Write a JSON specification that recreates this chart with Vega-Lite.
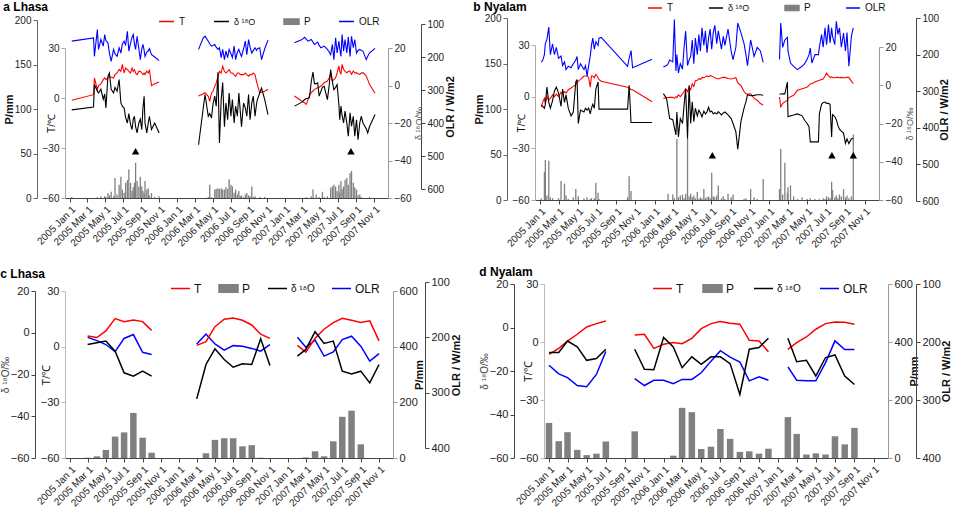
{
  "$schema": "https://vega.github.io/schema/vega-lite/v6.json",
  "padding": {"left": 0, "top": 0, "right": 0, "bottom": 0},
  "datasets": {
    "la": [
      {"t":"2005-01-07","s":1,"T":-1.4,"d":-13,"O":152,"P":1},
      {"t":"2005-03-22","s":1,"T":2,"d":-11.5,"O":142,"P":0},
      {"t":"2005-03-25","s":1,"T":12,"d":0.5,"O":198,"P":0},
      {"t":"2005-04-04","s":1,"T":5,"d":-3,"O":117,"P":1},
      {"t":"2005-04-08","s":1,"T":7.4,"d":-4,"O":177,"P":0},
      {"t":"2005-04-16","s":1,"T":8.5,"d":-2,"O":147,"P":2},
      {"t":"2005-04-24","s":1,"T":11,"d":-7.3,"O":167,"P":0},
      {"t":"2005-04-29","s":1,"T":12,"d":-4.5,"O":132,"P":2},
      {"t":"2005-05-03","s":1,"T":11,"d":-12,"O":150,"P":1},
      {"t":"2005-05-10","s":1,"T":12,"d":5,"O":157,"P":5.6},
      {"t":"2005-05-15","s":1,"T":13,"d":6.7,"O":188,"P":3},
      {"t":"2005-05-21","s":1,"T":12.5,"d":-2,"O":213,"P":7},
      {"t":"2005-05-29","s":1,"T":12,"d":-4,"O":177,"P":2},
      {"t":"2005-06-03","s":1,"T":14,"d":-1,"O":190,"P":22.5},
      {"t":"2005-06-10","s":1,"T":15,"d":-3,"O":198,"P":4},
      {"t":"2005-06-17","s":1,"T":17.2,"d":3.2,"O":172,"P":15},
      {"t":"2005-06-23","s":1,"T":16,"d":-9.3,"O":188,"P":24},
      {"t":"2005-06-28","s":1,"T":20.2,"d":-11,"O":160,"P":9.5},
      {"t":"2005-07-04","s":1,"T":15,"d":-12,"O":152,"P":6},
      {"t":"2005-07-09","s":1,"T":18,"d":-17,"O":165,"P":17},
      {"t":"2005-07-15","s":1,"T":17,"d":-20,"O":122,"P":20},
      {"t":"2005-07-20","s":1,"T":16,"d":-15,"O":182,"P":32},
      {"t":"2005-07-26","s":1,"T":15,"d":-21,"O":157,"P":17},
      {"t":"2005-07-31","s":1,"T":18,"d":-23.5,"O":140,"P":8},
      {"t":"2005-08-04","s":1,"T":16,"d":-18,"O":132,"P":12},
      {"t":"2005-08-08","s":1,"T":17,"d":-16.4,"O":160,"P":17},
      {"t":"2005-08-12","s":1,"T":15,"d":-22,"O":177,"P":39.5},
      {"t":"2005-08-17","s":1,"T":14,"d":-25.3,"O":137,"P":19},
      {"t":"2005-08-23","s":1,"T":16,"d":-20,"O":175,"P":13},
      {"t":"2005-08-28","s":1,"T":16,"d":-18,"O":208,"P":24},
      {"t":"2005-09-02","s":1,"T":15,"d":-23.5,"O":175,"P":13},
      {"t":"2005-09-06","s":1,"T":14,"d":-12,"O":162,"P":8},
      {"t":"2005-09-10","s":1,"T":15,"d":-5.7,"O":180,"P":5},
      {"t":"2005-09-13","s":1,"T":14,"d":-20,"O":198,"P":19},
      {"t":"2005-09-19","s":1,"T":16,"d":-25.3,"O":185,"P":9.5},
      {"t":"2005-09-24","s":1,"T":15,"d":-20,"O":182,"P":11},
      {"t":"2005-09-28","s":1,"T":17,"d":-16.4,"O":175,"P":3},
      {"t":"2005-10-05","s":1,"T":7.4,"d":-23.5,"O":193,"P":5.6},
      {"t":"2005-10-16","s":1,"T":8.5,"d":-20,"O":200,"P":1},
      {"t":"2005-10-31","s":1,"T":9.6,"d":-25.3,"O":211,"P":2},
      {"t":"2006-03-14","s":2,"T":1.2,"d":-31.6,"O":177,"P":0},
      {"t":"2006-03-30","s":2,"T":2.5,"d":-12,"O":142,"P":0},
      {"t":"2006-04-05","s":2,"T":3.2,"d":-4.8,"O":137,"P":0},
      {"t":"2006-04-16","s":2,"T":1,"d":-16.4,"O":152,"P":1},
      {"t":"2006-04-21","s":2,"T":-2,"d":-15,"O":160,"P":15},
      {"t":"2006-04-27","s":2,"T":3,"d":-17.3,"O":167,"P":1},
      {"t":"2006-05-02","s":2,"T":4,"d":-10,"O":165,"P":0},
      {"t":"2006-05-08","s":2,"T":7,"d":-5.7,"O":162,"P":9.5},
      {"t":"2006-05-13","s":2,"T":9,"d":-11,"O":170,"P":10},
      {"t":"2006-05-19","s":2,"T":13,"d":7,"O":177,"P":11},
      {"t":"2006-05-24","s":2,"T":16,"d":-30.6,"O":172,"P":10},
      {"t":"2006-05-30","s":2,"T":15,"d":-7.5,"O":202,"P":11},
      {"t":"2006-06-04","s":2,"T":19,"d":1.6,"O":177,"P":9.5},
      {"t":"2006-06-10","s":2,"T":16,"d":-22,"O":208,"P":9.5},
      {"t":"2006-06-15","s":2,"T":15,"d":-9.3,"O":182,"P":12},
      {"t":"2006-06-21","s":2,"T":16,"d":-18.3,"O":202,"P":10},
      {"t":"2006-06-26","s":2,"T":17,"d":-4,"O":177,"P":21},
      {"t":"2006-07-02","s":2,"T":15,"d":-16.4,"O":190,"P":15},
      {"t":"2006-07-07","s":2,"T":15,"d":-7.5,"O":202,"P":13},
      {"t":"2006-07-13","s":2,"T":14,"d":-20,"O":167,"P":6},
      {"t":"2006-07-18","s":2,"T":13,"d":-11,"O":208,"P":9.5},
      {"t":"2006-07-24","s":2,"T":15,"d":-16.4,"O":185,"P":4},
      {"t":"2006-07-29","s":2,"T":15,"d":-4,"O":177,"P":8},
      {"t":"2006-08-03","s":2,"T":14,"d":-14,"O":190,"P":2},
      {"t":"2006-08-07","s":2,"T":14,"d":-22,"O":198,"P":3},
      {"t":"2006-08-14","s":2,"T":14,"d":-9.3,"O":175,"P":1},
      {"t":"2006-08-20","s":2,"T":15,"d":-12,"O":152,"P":4},
      {"t":"2006-08-25","s":2,"T":14,"d":-16.4,"O":193,"P":5.6},
      {"t":"2006-08-31","s":2,"T":13,"d":-4.8,"O":147,"P":3},
      {"t":"2006-09-05","s":2,"T":14,"d":-18.3,"O":170,"P":2},
      {"t":"2006-09-11","s":2,"T":14,"d":-9.3,"O":188,"P":13},
      {"t":"2006-09-16","s":2,"T":15,"d":-5.7,"O":180,"P":1},
      {"t":"2006-09-22","s":2,"T":14,"d":-16.4,"O":172,"P":2},
      {"t":"2006-09-27","s":2,"T":10,"d":-10,"O":180,"P":0},
      {"t":"2006-09-30","s":2,"T":8,"d":-7.5,"O":175,"P":0},
      {"t":"2006-10-08","s":2,"T":3.2,"d":-4,"O":172,"P":1},
      {"t":"2006-10-14","s":2,"T":3.5,"d":-1.4,"O":208,"P":0},
      {"t":"2006-10-25","s":2,"T":4,"d":-7.5,"O":175,"P":1},
      {"t":"2006-11-05","s":2,"T":5.2,"d":-15.5,"O":149,"P":0},
      {"t":"2007-02-03","s":3,"T":1.2,"d":-11,"O":157,"P":0},
      {"t":"2007-02-27","s":3,"T":-1.8,"d":-9,"O":148,"P":0},
      {"t":"2007-03-10","s":3,"T":-3,"d":-7.5,"O":140,"P":0},
      {"t":"2007-03-15","s":3,"T":-3.8,"d":-7,"O":146,"P":1},
      {"t":"2007-03-21","s":3,"T":-1,"d":-6.8,"O":152,"P":0},
      {"t":"2007-03-26","s":3,"T":1.5,"d":-6.5,"O":150,"P":0},
      {"t":"2007-04-01","s":3,"T":3.2,"d":2,"O":147,"P":2},
      {"t":"2007-04-07","s":3,"T":4.2,"d":7.2,"O":155,"P":9.5},
      {"t":"2007-04-12","s":3,"T":5.2,"d":0.9,"O":162,"P":0},
      {"t":"2007-04-18","s":3,"T":5.7,"d":1,"O":158,"P":4},
      {"t":"2007-04-23","s":3,"T":6.2,"d":1.4,"O":155,"P":0},
      {"t":"2007-04-28","s":3,"T":6.5,"d":-5.7,"O":165,"P":1},
      {"t":"2007-05-04","s":3,"T":7.2,"d":-3,"O":172,"P":0},
      {"t":"2007-05-09","s":3,"T":8,"d":-1,"O":170,"P":7},
      {"t":"2007-05-15","s":3,"T":9.2,"d":-0.4,"O":167,"P":1},
      {"t":"2007-05-26","s":3,"T":10.2,"d":-7.5,"O":177,"P":2},
      {"t":"2007-06-01","s":3,"T":12,"d":0,"O":185,"P":0},
      {"t":"2007-06-06","s":3,"T":14.2,"d":8.5,"O":193,"P":11.7},
      {"t":"2007-06-12","s":3,"T":10.2,"d":2,"O":162,"P":13},
      {"t":"2007-06-17","s":3,"T":11,"d":-2.2,"O":208,"P":15},
      {"t":"2007-06-23","s":3,"T":12.2,"d":-1,"O":142,"P":13},
      {"t":"2007-06-28","s":3,"T":15,"d":0.5,"O":188,"P":8},
      {"t":"2007-07-04","s":3,"T":19.2,"d":-10,"O":152,"P":15},
      {"t":"2007-07-07","s":3,"T":16,"d":-18.3,"O":175,"P":6},
      {"t":"2007-07-11","s":3,"T":14.2,"d":-11,"O":198,"P":19},
      {"t":"2007-07-15","s":3,"T":20.2,"d":-16,"O":132,"P":10},
      {"t":"2007-07-20","s":3,"T":17.2,"d":-20,"O":182,"P":13},
      {"t":"2007-07-25","s":3,"T":16,"d":-13.7,"O":147,"P":20.5},
      {"t":"2007-07-31","s":3,"T":15.2,"d":-20,"O":188,"P":22.5},
      {"t":"2007-08-05","s":3,"T":16,"d":-27.1,"O":139,"P":15},
      {"t":"2007-08-11","s":3,"T":16.2,"d":-14.6,"O":198,"P":28},
      {"t":"2007-08-16","s":3,"T":14.2,"d":-21.7,"O":137,"P":30.4},
      {"t":"2007-08-22","s":3,"T":16.2,"d":-16.4,"O":172,"P":17},
      {"t":"2007-08-27","s":3,"T":15,"d":-27,"O":147,"P":12},
      {"t":"2007-09-02","s":3,"T":15.2,"d":-18.3,"O":188,"P":9.5},
      {"t":"2007-09-07","s":3,"T":14.5,"d":-28.9,"O":180,"P":3},
      {"t":"2007-09-13","s":3,"T":14.2,"d":-20,"O":177,"P":4},
      {"t":"2007-09-18","s":3,"T":15,"d":-16.4,"O":180,"P":1},
      {"t":"2007-09-24","s":3,"T":15.2,"d":-20,"O":182,"P":0},
      {"t":"2007-10-05","s":3,"T":13.2,"d":-23,"O":208,"P":0},
      {"t":"2007-10-10","s":3,"T":11,"d":-25.3,"O":198,"P":0},
      {"t":"2007-10-16","s":3,"T":8.2,"d":-22,"O":188,"P":1},
      {"t":"2007-11-04","s":3,"T":2.8,"d":-15.5,"O":174,"P":0}
    ],
    "ny": [
      {"t":"2005-01-05","s":1,"T":-6,"d":-10.4,"O":221,"P":2},
      {"t":"2005-01-10","s":1,"T":-3,"d":-11,"O":215,"P":0},
      {"t":"2005-01-15","s":1,"T":-1,"d":-12,"O":200,"P":31},
      {"t":"2005-01-18","s":1,"T":-4,"d":-10,"O":170,"P":44},
      {"t":"2005-01-23","s":1,"T":0,"d":-1,"O":159,"P":5},
      {"t":"2005-01-29","s":1,"T":-2,"d":-9,"O":125,"P":43},
      {"t":"2005-02-03","s":1,"T":-1,"d":-12,"O":200,"P":3},
      {"t":"2005-02-10","s":1,"T":1,"d":-8,"O":171,"P":2},
      {"t":"2005-02-16","s":1,"T":0,"d":-3,"O":200,"P":0},
      {"t":"2005-02-22","s":1,"T":1.5,"d":-1,"O":180,"P":0},
      {"t":"2005-03-01","s":1,"T":0,"d":-4,"O":210,"P":2},
      {"t":"2005-03-09","s":1,"T":2.5,"d":-11,"O":204,"P":21},
      {"t":"2005-03-14","s":1,"T":2,"d":-2,"O":230,"P":0},
      {"t":"2005-03-20","s":1,"T":3,"d":-9,"O":220,"P":18},
      {"t":"2005-03-25","s":1,"T":2,"d":-5,"O":241,"P":5},
      {"t":"2005-04-01","s":1,"T":4,"d":-12,"O":232,"P":1},
      {"t":"2005-04-10","s":1,"T":5,"d":-16,"O":236,"P":0},
      {"t":"2005-04-17","s":1,"T":6,"d":-14,"O":225,"P":3},
      {"t":"2005-04-25","s":1,"T":7,"d":1.7,"O":215,"P":12},
      {"t":"2005-04-29","s":1,"T":8,"d":3,"O":205,"P":0},
      {"t":"2005-05-03","s":1,"T":9,"d":-20,"O":241,"P":4},
      {"t":"2005-05-10","s":1,"T":10,"d":-13,"O":225,"P":0},
      {"t":"2005-05-21","s":1,"T":12,"d":-14,"O":241,"P":2},
      {"t":"2005-05-26","s":1,"T":12,"d":-12,"O":230,"P":0},
      {"t":"2005-05-31","s":1,"T":12,"d":-13,"O":259,"P":3},
      {"t":"2005-06-05","s":1,"T":11,"d":-12,"O":230,"P":0},
      {"t":"2005-06-10","s":1,"T":5.5,"d":-15,"O":205,"P":1},
      {"t":"2005-06-14","s":1,"T":12,"d":-12,"O":175,"P":2},
      {"t":"2005-06-18","s":1,"T":12,"d":-10,"O":155,"P":0},
      {"t":"2005-06-23","s":1,"T":11,"d":-12,"O":185,"P":2},
      {"t":"2005-06-28","s":1,"T":13,"d":-2,"O":165,"P":19},
      {"t":"2005-07-05","s":1,"T":11,"d":1.7,"O":175,"P":8},
      {"t":"2005-07-08","s":1,"T":10,"d":-12.5,"O":155,"P":1},
      {"t":"2005-07-15","s":1,"T":9,"d":-12.5,"O":153,"P":0},
      {"t":"2005-10-07","s":1,"T":5.5,"d":-12.5,"O":232,"P":3},
      {"t":"2005-10-12","s":1,"T":5,"d":0,"O":210,"P":26},
      {"t":"2005-10-18","s":1,"T":4,"d":-19.5,"O":189,"P":10},
      {"t":"2005-10-23","s":1,"T":4,"d":-19.5,"O":236,"P":0},
      {"t":"2005-12-24","s":1,"T":-3,"d":-19.5,"O":213,"P":0},
      {"t":"2006-01-29","s":2,"T":-1.1,"d":-4.4,"O":234,"P":0},
      {"t":"2006-02-08","s":2,"T":-0.5,"d":-6.9,"O":230,"P":0},
      {"t":"2006-02-13","s":2,"T":-0.5,"d":-12,"O":225,"P":7},
      {"t":"2006-02-18","s":2,"T":-0.4,"d":-17.4,"O":215,"P":0},
      {"t":"2006-02-28","s":2,"T":-0.4,"d":-18,"O":220,"P":6},
      {"t":"2006-03-05","s":2,"T":-1,"d":-22,"O":104,"P":2},
      {"t":"2006-03-10","s":2,"T":0,"d":-26,"O":245,"P":0},
      {"t":"2006-03-13","s":2,"T":-0.5,"d":-14,"O":200,"P":67},
      {"t":"2006-03-18","s":2,"T":1,"d":-27,"O":250,"P":3},
      {"t":"2006-03-24","s":2,"T":0,"d":-17.4,"O":225,"P":5},
      {"t":"2006-03-31","s":2,"T":1.7,"d":-20,"O":240,"P":6},
      {"t":"2006-04-05","s":2,"T":3,"d":-10.4,"O":180,"P":2},
      {"t":"2006-04-10","s":2,"T":4.6,"d":-1.8,"O":136,"P":7},
      {"t":"2006-04-16","s":2,"T":3,"d":-27.8,"O":230,"P":68},
      {"t":"2006-04-21","s":2,"T":5.5,"d":0,"O":215,"P":4},
      {"t":"2006-04-26","s":2,"T":4,"d":-20,"O":205,"P":7},
      {"t":"2006-05-01","s":2,"T":7.4,"d":-8.7,"O":160,"P":3},
      {"t":"2006-05-06","s":2,"T":6,"d":-19,"O":225,"P":5},
      {"t":"2006-05-11","s":2,"T":9.3,"d":-12,"O":155,"P":2},
      {"t":"2006-05-17","s":2,"T":9.5,"d":-16,"O":200,"P":8.7},
      {"t":"2006-05-22","s":2,"T":10.5,"d":-13,"O":145,"P":1},
      {"t":"2006-05-27","s":2,"T":10,"d":-14.5,"O":190,"P":3},
      {"t":"2006-06-01","s":2,"T":11.2,"d":-16.5,"O":127,"P":2},
      {"t":"2006-06-07","s":2,"T":11,"d":-13.5,"O":175,"P":12},
      {"t":"2006-06-12","s":2,"T":11.5,"d":-15,"O":135,"P":2},
      {"t":"2006-06-17","s":2,"T":12,"d":-14,"O":195,"P":3},
      {"t":"2006-06-22","s":2,"T":11.5,"d":-11.5,"O":155,"P":4},
      {"t":"2006-06-27","s":2,"T":12.2,"d":-14,"O":130,"P":2},
      {"t":"2006-07-02","s":2,"T":12,"d":-13.5,"O":185,"P":30},
      {"t":"2006-07-07","s":2,"T":11.5,"d":-15,"O":140,"P":4},
      {"t":"2006-07-12","s":2,"T":11,"d":-14.3,"O":120,"P":3},
      {"t":"2006-07-18","s":2,"T":10.5,"d":-15,"O":170,"P":5},
      {"t":"2006-07-23","s":2,"T":10.3,"d":-13.8,"O":135,"P":16},
      {"t":"2006-08-02","s":2,"T":11,"d":-15.5,"O":185,"P":2},
      {"t":"2006-08-08","s":2,"T":11.2,"d":-14.5,"O":150,"P":4},
      {"t":"2006-08-13","s":2,"T":11.2,"d":-14,"O":175,"P":1},
      {"t":"2006-08-23","s":2,"T":10.5,"d":-15.5,"O":130,"P":7},
      {"t":"2006-09-02","s":2,"T":10.3,"d":-17.4,"O":191,"P":3},
      {"t":"2006-09-08","s":2,"T":10.5,"d":-20,"O":214,"P":6},
      {"t":"2006-09-17","s":2,"T":11,"d":-24.4,"O":180,"P":0},
      {"t":"2006-09-23","s":2,"T":8,"d":-33.4,"O":114,"P":0},
      {"t":"2006-10-03","s":2,"T":6.5,"d":-19,"O":140,"P":0},
      {"t":"2006-10-13","s":2,"T":3,"d":-12,"O":170,"P":1},
      {"t":"2006-10-19","s":2,"T":1.7,"d":-8.7,"O":200,"P":2},
      {"t":"2006-10-24","s":2,"T":1.5,"d":-4.9,"O":230,"P":0},
      {"t":"2006-11-03","s":2,"T":1.7,"d":-5.5,"O":160,"P":12},
      {"t":"2006-11-14","s":2,"T":-1,"d":-5.3,"O":205,"P":3},
      {"t":"2006-11-24","s":2,"T":-2.1,"d":-5,"O":180,"P":1},
      {"t":"2006-12-04","s":2,"T":-4,"d":-5,"O":190,"P":0},
      {"t":"2006-12-13","s":2,"T":-4.9,"d":-5.2,"O":221,"P":23},
      {"t":"2007-02-03","s":3,"T":-0.2,"d":-4.7,"O":213,"P":12},
      {"t":"2007-02-07","s":3,"T":-5.9,"d":-4.6,"O":114,"P":56},
      {"t":"2007-02-13","s":3,"T":-4,"d":-4.5,"O":180,"P":6},
      {"t":"2007-02-20","s":3,"T":-3,"d":-4.5,"O":160,"P":41},
      {"t":"2007-02-28","s":3,"T":-2,"d":1.7,"O":153,"P":8},
      {"t":"2007-03-02","s":3,"T":-1,"d":-16.5,"O":190,"P":14},
      {"t":"2007-03-10","s":3,"T":0,"d":-16,"O":223,"P":16},
      {"t":"2007-03-20","s":3,"T":0.8,"d":-15.6,"O":232,"P":4},
      {"t":"2007-04-01","s":3,"T":3.7,"d":-15,"O":241,"P":1},
      {"t":"2007-04-16","s":3,"T":4.6,"d":-16,"O":232,"P":3},
      {"t":"2007-04-24","s":3,"T":5,"d":-18.3,"O":225,"P":0},
      {"t":"2007-05-02","s":3,"T":5.6,"d":-20,"O":213,"P":1},
      {"t":"2007-05-08","s":3,"T":6.5,"d":-21.7,"O":200,"P":0},
      {"t":"2007-05-12","s":3,"T":7.5,"d":-29.6,"O":182,"P":2},
      {"t":"2007-05-17","s":3,"T":7.5,"d":-29.6,"O":223,"P":0},
      {"t":"2007-05-27","s":3,"T":8.5,"d":-29.6,"O":200,"P":1},
      {"t":"2007-06-07","s":3,"T":9.4,"d":-29.6,"O":200,"P":0},
      {"t":"2007-06-10","s":3,"T":9.5,"d":-14.8,"O":180,"P":1},
      {"t":"2007-06-17","s":3,"T":10,"d":-10,"O":145,"P":0},
      {"t":"2007-06-22","s":3,"T":10.3,"d":-9,"O":180,"P":2},
      {"t":"2007-06-28","s":3,"T":12,"d":-8.8,"O":127,"P":1},
      {"t":"2007-07-03","s":3,"T":13.7,"d":-9.5,"O":173,"P":4},
      {"t":"2007-07-09","s":3,"T":12,"d":-9.5,"O":118,"P":3},
      {"t":"2007-07-14","s":3,"T":11.2,"d":-10,"O":168,"P":2},
      {"t":"2007-07-19","s":3,"T":11.5,"d":-27,"O":127,"P":20},
      {"t":"2007-07-22","s":3,"T":11,"d":-15.4,"O":150,"P":11},
      {"t":"2007-07-29","s":3,"T":11,"d":-16.4,"O":173,"P":3},
      {"t":"2007-08-03","s":3,"T":11.2,"d":-18,"O":109,"P":5},
      {"t":"2007-08-08","s":3,"T":11.2,"d":-21,"O":145,"P":2},
      {"t":"2007-08-13","s":3,"T":11,"d":-23,"O":127,"P":6},
      {"t":"2007-08-19","s":3,"T":11.2,"d":-24,"O":180,"P":4},
      {"t":"2007-08-26","s":3,"T":11,"d":-25,"O":141,"P":12},
      {"t":"2007-09-01","s":3,"T":11,"d":-30.4,"O":190,"P":3},
      {"t":"2007-09-06","s":3,"T":11.2,"d":-28,"O":140,"P":5},
      {"t":"2007-09-12","s":3,"T":11.2,"d":-30.5,"O":232,"P":2},
      {"t":"2007-09-20","s":3,"T":9,"d":-28,"O":150,"P":4},
      {"t":"2007-09-26","s":3,"T":7.5,"d":-27.8,"O":127,"P":72}
    ],
    "lc": [
      {"t":"2005-03-01","s":1,"T":5.8,"d":-5.6,"O":200,"P":1},
      {"t":"2005-04-01","s":1,"T":4.9,"d":-4.8,"O":206,"P":6},
      {"t":"2005-05-01","s":1,"T":8.5,"d":-4,"O":213,"P":29},
      {"t":"2005-06-01","s":1,"T":15.1,"d":-8.8,"O":226,"P":77},
      {"t":"2005-07-01","s":1,"T":13.5,"d":-19.2,"O":202,"P":92},
      {"t":"2005-08-01","s":1,"T":14.4,"d":-20.8,"O":195,"P":162},
      {"t":"2005-09-01","s":1,"T":13.5,"d":-18.4,"O":227,"P":73},
      {"t":"2005-10-01","s":1,"T":8.8,"d":-20.8,"O":231,"P":19},
      {"t":"2006-03-01","s":2,"T":0.7,"d":-31.7,"O":212,"P":0},
      {"t":"2006-04-01","s":2,"T":2.7,"d":-15.2,"O":194,"P":17},
      {"t":"2006-05-01","s":2,"T":10.8,"d":-7.7,"O":212,"P":65},
      {"t":"2006-06-01","s":2,"T":14.8,"d":-12.8,"O":223,"P":71},
      {"t":"2006-07-01","s":2,"T":15.5,"d":-16.5,"O":215,"P":71},
      {"t":"2006-08-01","s":2,"T":14.2,"d":-14.9,"O":216,"P":42},
      {"t":"2006-09-01","s":2,"T":11.7,"d":-15.2,"O":220,"P":46},
      {"t":"2006-10-01","s":2,"T":6.7,"d":-2.9,"O":225,"P":1},
      {"t":"2006-11-01","s":2,"T":4.5,"d":-15.7,"O":213,"P":0},
      {"t":"2007-02-01","s":3,"T":0.7,"d":-11.2,"O":200,"P":0},
      {"t":"2007-03-01","s":3,"T":-2.9,"d":-8,"O":218,"P":2},
      {"t":"2007-04-01","s":3,"T":4.5,"d":0.5,"O":205,"P":24},
      {"t":"2007-05-01","s":3,"T":9.4,"d":-5.1,"O":234,"P":6},
      {"t":"2007-06-01","s":3,"T":13,"d":-4,"O":226.5,"P":60},
      {"t":"2007-07-01","s":3,"T":15.3,"d":-18.4,"O":204,"P":148},
      {"t":"2007-08-01","s":3,"T":14.2,"d":-19.7,"O":198,"P":170},
      {"t":"2007-09-01","s":3,"T":13,"d":-18.4,"O":216,"P":49},
      {"t":"2007-10-01","s":3,"T":13.9,"d":-24,"O":243,"P":0},
      {"t":"2007-11-01","s":3,"T":3.1,"d":-15.2,"O":229.5,"P":0}
    ],
    "nd": [
      {"t":"2005-01-01","s":1,"T":-6.4,"d":-11.5,"O":240,"P":121},
      {"t":"2005-02-01","s":1,"T":-3.3,"d":-11.5,"O":255,"P":58},
      {"t":"2005-03-01","s":1,"T":0.5,"d":-6.2,"O":261.5,"P":89},
      {"t":"2005-04-01","s":1,"T":4,"d":-8.9,"O":275,"P":28},
      {"t":"2005-05-01","s":1,"T":7.8,"d":-15.1,"O":277,"P":10},
      {"t":"2005-06-01","s":1,"T":9.5,"d":-14.3,"O":256,"P":15},
      {"t":"2005-07-01","s":1,"T":10.9,"d":-10,"O":216.5,"P":57},
      {"t":"2005-10-01","s":2,"T":3.6,"d":-10,"O":263,"P":92},
      {"t":"2005-11-01","s":2,"T":4,"d":-19.2,"O":275,"P":0},
      {"t":"2005-12-01","s":2,"T":-3.3,"d":-19.4,"O":266,"P":0},
      {"t":"2006-01-01","s":2,"T":-1.2,"d":-4.6,"O":266,"P":0},
      {"t":"2006-02-01","s":2,"T":-0.3,"d":-8.9,"O":272,"P":8},
      {"t":"2006-03-01","s":2,"T":-0.9,"d":-18.5,"O":264.5,"P":173},
      {"t":"2006-04-01","s":2,"T":1.9,"d":-13.5,"O":264.5,"P":158},
      {"t":"2006-05-01","s":2,"T":6.9,"d":-16.9,"O":253,"P":31},
      {"t":"2006-06-01","s":2,"T":9.5,"d":-13.5,"O":233,"P":39},
      {"t":"2006-07-01","s":2,"T":10.6,"d":-13.5,"O":215,"P":100},
      {"t":"2006-08-01","s":2,"T":9.7,"d":-16.6,"O":226,"P":66},
      {"t":"2006-09-01","s":2,"T":9.2,"d":-30.8,"O":234.5,"P":21},
      {"t":"2006-10-01","s":2,"T":0.9,"d":-10,"O":267,"P":23},
      {"t":"2006-11-01","s":2,"T":0.5,"d":-9.2,"O":260,"P":15},
      {"t":"2006-12-01","s":2,"T":-5,"d":-4.9,"O":266,"P":32},
      {"t":"2007-02-01","s":3,"T":-3.8,"d":-4.9,"O":243,"P":141},
      {"t":"2007-03-01","s":3,"T":-0.3,"d":-15.7,"O":266,"P":83},
      {"t":"2007-04-01","s":3,"T":2.6,"d":-15.1,"O":267,"P":12},
      {"t":"2007-05-01","s":3,"T":6.6,"d":-22.3,"O":267,"P":16},
      {"t":"2007-06-01","s":3,"T":9.5,"d":-13.8,"O":235.6,"P":12},
      {"t":"2007-07-01","s":3,"T":10.4,"d":-12.6,"O":198,"P":75},
      {"t":"2007-08-01","s":3,"T":10.2,"d":-22.3,"O":213,"P":47},
      {"t":"2007-09-01","s":3,"T":9.2,"d":-26.2,"O":213,"P":104}
    ],
    "tri_a": [
      {"t":"2005-08-12","v":-32},
      {"t":"2007-08-14","v":-32}
    ],
    "tri_b": [
      {"t":"2006-07-04","v":-34},
      {"t":"2007-07-20","v":-34},
      {"t":"2007-09-26","v":-34}
    ]
  },
  "vconcat": [
    {
      "hconcat": [
        {
          "title": {"text": "a  Lhasa", "offset": -1},
          "width": 323,
          "height": 180,
          "data": {"name": "la"},
          "encoding": {
            "x": {
              "field": "t", "type": "temporal",
              "scale": {"type": "utc", "domain": [{"year":2005,"month":1,"date":1,"utc":true},{"year":2007,"month":12,"date":1,"utc":true}]},
              "axis": {
                "title": null, "format": "%Y %b %-d", "labelAngle": -45, "labelOverlap": false, "labelFlush": false,
                "values": [
                  {"year":2005,"month":1,"date":1,"utc":true},{"year":2005,"month":3,"date":1,"utc":true},{"year":2005,"month":5,"date":1,"utc":true},
                  {"year":2005,"month":7,"date":1,"utc":true},{"year":2005,"month":9,"date":1,"utc":true},{"year":2005,"month":11,"date":1,"utc":true},
                  {"year":2006,"month":1,"date":1,"utc":true},{"year":2006,"month":3,"date":1,"utc":true},{"year":2006,"month":5,"date":1,"utc":true},
                  {"year":2006,"month":7,"date":1,"utc":true},{"year":2006,"month":9,"date":1,"utc":true},{"year":2006,"month":11,"date":1,"utc":true},
                  {"year":2007,"month":1,"date":1,"utc":true},{"year":2007,"month":3,"date":1,"utc":true},{"year":2007,"month":5,"date":1,"utc":true},
                  {"year":2007,"month":7,"date":1,"utc":true},{"year":2007,"month":9,"date":1,"utc":true},{"year":2007,"month":11,"date":1,"utc":true}
                ]
              }
            }
          },
          "layer": [
            {
              "mark": {"type": "bar", "size": 1.3},
              "encoding": {
                "y": {"field": "P", "type": "quantitative", "scale": {"domain": [0, 200], "range": [180, 2], "nice": false},
                      "axis": {"orient": "left", "offset": 28, "values": [0, 50, 100, 150, 200], "title": "P/mm", "titleFontWeight": "bold", "titleFontSize": 11, "titlePadding": 0, "domainColor": "#666", "tickColor": "#666"}},
                "color": {"datum": "P", "scale": {"domain": ["T", "δ ¹⁸O", "P", "OLR"], "range": ["#ff0000", "#000000", "#808080", "#0000ff"]},
                          "legend": {"orient": "none", "legendX": 93, "legendY": -5, "padding": 0, "direction": "horizontal", "title": null, "labelFontSize": 10, "symbolSize": 225, "columnPadding": 25, "gridAlign": "none", "labelOffset": 4,
                                     "encode": {"symbols": {"update": {
                                       "shape": {"signal": "datum.value === 'P' ? 'M-1,-0.35H1V0.35H-1Z' : 'M-1,0H1'"},
                                       "fill": {"signal": "datum.value === 'P' ? '#808080' : 'transparent'"},
                                       "stroke": {"signal": "datum.value === 'P' ? '#808080' : datum.value === 'T' ? '#ff0000' : datum.value === 'OLR' ? '#0000ff' : '#000000'"},
                                       "strokeWidth": {"value": 1.5}}},
                                       "labels": {"update": {"fontSize": {"signal": "datum.value === 'δ ¹⁸O' ? 9 : 10"}}}}}}
              }
            },
            {
              "mark": {"type": "line", "strokeWidth": 1.1},
              "encoding": {
                "y": {"field": "O", "type": "quantitative", "scale": {"domain": [100, 600], "range": [6, 171], "nice": false, "zero": false},
                      "axis": {"orient": "right", "offset": 33, "values": [100, 200, 300, 400, 500, 600], "title": "OLR / W/m2", "titleFontWeight": "bold", "titleFontSize": 11, "titleAngle": 270, "titleBaseline": "top", "titlePadding": 1}},
                "color": {"datum": "OLR", "scale": {"domain": ["T", "δ ¹⁸O", "P", "OLR"], "range": ["#ff0000", "#000000", "#808080", "#0000ff"]}},
                "detail": {"field": "s"}
              }
            },
            {
              "mark": {"type": "line", "strokeWidth": 1.1},
              "encoding": {
                "y": {"field": "T", "type": "quantitative", "scale": {"domain": [-60, 30], "range": [180, 30], "nice": false, "zero": false},
                      "axis": {"orient": "left", "offset": 0, "values": [-60, -30, 0, 30], "title": "T/℃", "titlePadding": -14, "domainColor": "#aaa", "tickColor": "#aaa"}},
                "color": {"datum": "T", "scale": {"domain": ["T", "δ ¹⁸O", "P", "OLR"], "range": ["#ff0000", "#000000", "#808080", "#0000ff"]}},
                "detail": {"field": "s"}
              }
            },
            {
              "mark": {"type": "line", "strokeWidth": 1.1},
              "encoding": {
                "y": {"field": "d", "type": "quantitative", "scale": {"domain": [-60, 20], "range": [180, 30], "nice": false, "zero": false},
                      "axis": {"orient": "right", "offset": 0, "values": [-60, -40, -20, 0, 20], "title": "δ ¹⁸O/‰", "titleColor": "#555", "titleFontSize": 9, "titleAngle": 270, "titleBaseline": "top", "domainColor": "#999", "tickColor": "#999"}},
                "color": {"datum": "δ ¹⁸O", "scale": {"domain": ["T", "δ ¹⁸O", "P", "OLR"], "range": ["#ff0000", "#000000", "#808080", "#0000ff"]}},
                "detail": {"field": "s"}
              }
            },
            {
              "data": {"name": "tri_a"},
              "mark": {"type": "point", "shape": "triangle-up", "filled": true, "color": "#000000", "opacity": 1, "size": 55},
              "encoding": {
                "y": {"field": "v", "type": "quantitative", "scale": {"domain": [-60, 30], "range": [180, 30], "nice": false, "zero": false}, "axis": null}
              }
            }
          ],
          "resolve": {"scale": {"y": "independent"}, "axis": {"y": "independent"}}
        },
        {
          "title": {"text": "b  Nyalam", "offset": -14},
          "width": 344,
          "height": 182,
          "data": {"name": "ny"},
          "encoding": {
            "x": {
              "field": "t", "type": "temporal",
              "scale": {"type": "utc", "domain": [{"year":2005,"month":1,"date":1,"utc":true},{"year":2007,"month":12,"date":1,"utc":true}]},
              "axis": {
                "title": null, "format": "%Y %b %-d", "labelAngle": -45, "labelOverlap": false, "labelFlush": false,
                "values": [
                  {"year":2005,"month":1,"date":1,"utc":true},{"year":2005,"month":3,"date":1,"utc":true},{"year":2005,"month":5,"date":1,"utc":true},
                  {"year":2005,"month":7,"date":1,"utc":true},{"year":2005,"month":9,"date":1,"utc":true},{"year":2005,"month":11,"date":1,"utc":true},
                  {"year":2006,"month":1,"date":1,"utc":true},{"year":2006,"month":3,"date":1,"utc":true},{"year":2006,"month":5,"date":1,"utc":true},
                  {"year":2006,"month":7,"date":1,"utc":true},{"year":2006,"month":9,"date":1,"utc":true},{"year":2006,"month":11,"date":1,"utc":true},
                  {"year":2007,"month":1,"date":1,"utc":true},{"year":2007,"month":3,"date":1,"utc":true},{"year":2007,"month":5,"date":1,"utc":true},
                  {"year":2007,"month":7,"date":1,"utc":true},{"year":2007,"month":9,"date":1,"utc":true},{"year":2007,"month":11,"date":1,"utc":true}
                ]
              }
            }
          },
          "layer": [
            {
              "mark": {"type": "bar", "size": 1.3},
              "encoding": {
                "y": {"field": "P", "type": "quantitative", "scale": {"domain": [0, 200], "nice": false},
                      "axis": {"orient": "left", "offset": 28, "values": [0, 50, 100, 150, 200], "title": "P/mm", "titleFontWeight": "bold", "titleFontSize": 11, "titlePadding": 0, "domainColor": "#666", "tickColor": "#666"}},
                "color": {"datum": "P", "scale": {"domain": ["T", "δ ¹⁸O", "P", "OLR"], "range": ["#ff0000", "#000000", "#808080", "#0000ff"]},
                          "legend": {"orient": "none", "legendX": 112, "legendY": -18, "padding": 0, "direction": "horizontal", "title": null, "labelFontSize": 10, "symbolSize": 196, "columnPadding": 32, "gridAlign": "none", "labelOffset": 4,
                                     "encode": {"symbols": {"update": {
                                       "shape": {"signal": "datum.value === 'P' ? 'M-1,-0.35H1V0.35H-1Z' : 'M-1,0H1'"},
                                       "fill": {"signal": "datum.value === 'P' ? '#808080' : 'transparent'"},
                                       "stroke": {"signal": "datum.value === 'P' ? '#808080' : datum.value === 'T' ? '#ff0000' : datum.value === 'OLR' ? '#0000ff' : '#000000'"},
                                       "strokeWidth": {"value": 1.5}}},
                                       "labels": {"update": {"fontSize": {"signal": "datum.value === 'δ ¹⁸O' ? 9 : 10"}}}}}}
              }
            },
            {
              "mark": {"type": "line", "strokeWidth": 1.1},
              "encoding": {
                "y": {"field": "O", "type": "quantitative", "scale": {"domain": [100, 600], "range": [0, 183], "nice": false, "zero": false},
                      "axis": {"orient": "right", "offset": 37, "values": [100, 200, 300, 400, 500, 600], "title": "OLR / W/m2", "titleFontWeight": "bold", "titleFontSize": 11, "titleAngle": 270, "titleBaseline": "top", "titlePadding": 0}},
                "color": {"datum": "OLR", "scale": {"domain": ["T", "δ ¹⁸O", "P", "OLR"], "range": ["#ff0000", "#000000", "#808080", "#0000ff"]}},
                "detail": {"field": "s"}
              }
            },
            {
              "mark": {"type": "line", "strokeWidth": 1.1},
              "encoding": {
                "y": {"field": "T", "type": "quantitative", "scale": {"domain": [-60, 30], "range": [182, 27], "nice": false, "zero": false},
                      "axis": {"orient": "left", "offset": 0, "values": [-60, -30, 0, 30], "title": "T/℃", "titlePadding": -14, "domainColor": "#aaa", "tickColor": "#aaa"}},
                "color": {"datum": "T", "scale": {"domain": ["T", "δ ¹⁸O", "P", "OLR"], "range": ["#ff0000", "#000000", "#808080", "#0000ff"]}},
                "detail": {"field": "s"}
              }
            },
            {
              "mark": {"type": "line", "strokeWidth": 1.1},
              "encoding": {
                "y": {"field": "d", "type": "quantitative", "scale": {"domain": [-60, 20], "range": [182, 29], "nice": false, "zero": false},
                      "axis": {"orient": "right", "offset": 0, "values": [-60, -40, -20, 0, 20], "title": "δ ¹⁸O/‰", "titleColor": "#555", "titleFontSize": 9, "titleAngle": 270, "titleBaseline": "top", "domainColor": "#999", "tickColor": "#999"}},
                "color": {"datum": "δ ¹⁸O", "scale": {"domain": ["T", "δ ¹⁸O", "P", "OLR"], "range": ["#ff0000", "#000000", "#808080", "#0000ff"]}},
                "detail": {"field": "s"}
              }
            },
            {
              "data": {"name": "tri_b"},
              "mark": {"type": "point", "shape": "triangle-up", "filled": true, "color": "#000000", "opacity": 1, "size": 55},
              "encoding": {
                "y": {"field": "v", "type": "quantitative", "scale": {"domain": [-60, 30], "range": [182, 27], "nice": false, "zero": false}, "axis": null}
              }
            }
          ],
          "resolve": {"scale": {"y": "independent"}, "axis": {"y": "independent"}}
        }
      ],
      "spacing": 17,
      "resolve": {"scale": {"x": "independent", "y": "independent", "color": "independent"}, "legend": {"color": "independent"}}
    },
    {
      "hconcat": [
        {
          "title": {"text": "c  Lhasa", "offset": -5},
          "width": 328,
          "height": 176,
          "data": {"name": "lc"},
          "encoding": {
            "x": {
              "field": "t", "type": "temporal",
              "scale": {"type": "utc", "domain": [{"year":2005,"month":1,"date":1,"utc":true},{"year":2007,"month":12,"date":1,"utc":true}]},
              "axis": {
                "title": null, "format": "%Y %b %-d", "labelAngle": -45, "labelOverlap": false, "labelFlush": false,
                "values": [
                  {"year":2005,"month":1,"date":1,"utc":true},{"year":2005,"month":3,"date":1,"utc":true},{"year":2005,"month":5,"date":1,"utc":true},
                  {"year":2005,"month":7,"date":1,"utc":true},{"year":2005,"month":9,"date":1,"utc":true},{"year":2005,"month":11,"date":1,"utc":true},
                  {"year":2006,"month":1,"date":1,"utc":true},{"year":2006,"month":3,"date":1,"utc":true},{"year":2006,"month":5,"date":1,"utc":true},
                  {"year":2006,"month":7,"date":1,"utc":true},{"year":2006,"month":9,"date":1,"utc":true},{"year":2006,"month":11,"date":1,"utc":true},
                  {"year":2007,"month":1,"date":1,"utc":true},{"year":2007,"month":3,"date":1,"utc":true},{"year":2007,"month":5,"date":1,"utc":true},
                  {"year":2007,"month":7,"date":1,"utc":true},{"year":2007,"month":9,"date":1,"utc":true},{"year":2007,"month":11,"date":1,"utc":true}
                ]
              }
            }
          },
          "layer": [
            {
              "mark": {"type": "bar", "size": 6.5},
              "encoding": {
                "y": {"field": "P", "type": "quantitative", "scale": {"domain": [0, 600], "range": [176, 9], "nice": false},
                      "axis": {"orient": "right", "offset": 0, "values": [0, 200, 400, 600], "title": "P/mm", "titleFontWeight": "bold", "titleFontSize": 11, "labelFontSize": 11, "titleAngle": 270, "titleBaseline": "top", "titlePadding": -4, "domainColor": "#999", "tickColor": "#999"}},
                "color": {"datum": "P", "scale": {"domain": ["T", "P", "δ ¹⁸O", "OLR"], "range": ["#ff0000", "#808080", "#000000", "#0000ff"]},
                          "legend": {"orient": "none", "legendX": 105, "legendY": -4, "padding": 0, "direction": "horizontal", "title": null, "labelFontSize": 12, "symbolSize": 361, "columnPadding": 14, "gridAlign": "none", "labelOffset": 3,
                                     "encode": {"symbols": {"update": {
                                       "shape": {"signal": "datum.value === 'P' ? 'M-1,-0.4H1V0.4H-1Z' : 'M-1,0H1'"},
                                       "fill": {"signal": "datum.value === 'P' ? '#808080' : 'transparent'"},
                                       "stroke": {"signal": "datum.value === 'P' ? '#808080' : datum.value === 'T' ? '#ff0000' : datum.value === 'OLR' ? '#0000ff' : '#000000'"},
                                       "strokeWidth": {"value": 1.5}}},
                                       "labels": {"update": {"fontSize": {"signal": "datum.value === 'δ ¹⁸O' ? 10 : 12"}}}}}}
              }
            },
            {
              "mark": {"type": "line", "strokeWidth": 1.5},
              "encoding": {
                "y": {"field": "O", "type": "quantitative", "scale": {"domain": [100, 400], "range": [0, 166], "nice": false, "zero": false},
                      "axis": {"orient": "right", "offset": 32, "values": [100, 200, 300, 400], "title": "OLR / W/m2", "titleFontWeight": "bold", "titleFontSize": 11, "labelFontSize": 11, "titleAngle": 270, "titleBaseline": "top", "titlePadding": 1}},
                "color": {"datum": "OLR", "scale": {"domain": ["T", "P", "δ ¹⁸O", "OLR"], "range": ["#ff0000", "#808080", "#000000", "#0000ff"]}},
                "detail": {"field": "s"}
              }
            },
            {
              "mark": {"type": "line", "strokeWidth": 1.5},
              "encoding": {
                "y": {"field": "T", "type": "quantitative", "scale": {"domain": [-60, 30], "range": [176, 9], "nice": false, "zero": false},
                      "axis": {"orient": "left", "offset": 0, "values": [-60, -30, 0, 30], "title": "T/℃", "titleFontSize": 11, "labelFontSize": 11, "titlePadding": -11, "domainColor": "#bbb", "tickColor": "#bbb"}},
                "color": {"datum": "T", "scale": {"domain": ["T", "P", "δ ¹⁸O", "OLR"], "range": ["#ff0000", "#808080", "#000000", "#0000ff"]}},
                "detail": {"field": "s"}
              }
            },
            {
              "mark": {"type": "line", "strokeWidth": 1.5},
              "encoding": {
                "y": {"field": "d", "type": "quantitative", "scale": {"domain": [-60, 20], "range": [176, 9], "nice": false, "zero": false},
                      "axis": {"orient": "left", "offset": 30, "values": [-60, -40, -20, 0, 20], "title": "δ ¹⁸O/‰", "titleColor": "#444", "titleFontSize": 10, "labelFontSize": 11, "titlePadding": 0}},
                "color": {"datum": "δ ¹⁸O", "scale": {"domain": ["T", "P", "δ ¹⁸O", "OLR"], "range": ["#ff0000", "#808080", "#000000", "#0000ff"]}},
                "detail": {"field": "s"}
              }
            }
          ],
          "resolve": {"scale": {"y": "independent"}, "axis": {"y": "independent"}}
        },
        {
          "title": {"text": "d  Nyalam", "offset": -1},
          "width": 344,
          "height": 176,
          "data": {"name": "nd"},
          "encoding": {
            "x": {
              "field": "t", "type": "temporal",
              "scale": {"type": "utc", "domain": [{"year":2005,"month":1,"date":1,"utc":true},{"year":2007,"month":12,"date":1,"utc":true}]},
              "axis": {
                "title": null, "format": "%Y %b %-d", "labelAngle": -45, "labelOverlap": false, "labelFlush": false,
                "values": [
                  {"year":2005,"month":1,"date":1,"utc":true},{"year":2005,"month":3,"date":1,"utc":true},{"year":2005,"month":5,"date":1,"utc":true},
                  {"year":2005,"month":7,"date":1,"utc":true},{"year":2005,"month":9,"date":1,"utc":true},{"year":2005,"month":11,"date":1,"utc":true},
                  {"year":2006,"month":1,"date":1,"utc":true},{"year":2006,"month":3,"date":1,"utc":true},{"year":2006,"month":5,"date":1,"utc":true},
                  {"year":2006,"month":7,"date":1,"utc":true},{"year":2006,"month":9,"date":1,"utc":true},{"year":2006,"month":11,"date":1,"utc":true},
                  {"year":2007,"month":1,"date":1,"utc":true},{"year":2007,"month":3,"date":1,"utc":true},{"year":2007,"month":5,"date":1,"utc":true},
                  {"year":2007,"month":7,"date":1,"utc":true},{"year":2007,"month":9,"date":1,"utc":true},{"year":2007,"month":11,"date":1,"utc":true}
                ]
              }
            }
          },
          "layer": [
            {
              "mark": {"type": "bar", "size": 6.5},
              "encoding": {
                "y": {"field": "P", "type": "quantitative", "scale": {"domain": [0, 600], "range": [176, 2], "nice": false},
                      "axis": {"orient": "right", "offset": 0, "values": [0, 200, 400, 600], "title": "P/mm", "titleFontWeight": "bold", "titleFontSize": 11, "labelFontSize": 11, "titleAngle": 270, "titleBaseline": "top", "titlePadding": -4, "domainColor": "#999", "tickColor": "#999"}},
                "color": {"datum": "P", "scale": {"domain": ["T", "P", "δ ¹⁸O", "OLR"], "range": ["#ff0000", "#808080", "#000000", "#0000ff"]},
                          "legend": {"orient": "none", "legendX": 108, "legendY": -4, "padding": 0, "direction": "horizontal", "title": null, "labelFontSize": 12, "symbolSize": 361, "columnPadding": 16, "gridAlign": "none", "labelOffset": 3,
                                     "encode": {"symbols": {"update": {
                                       "shape": {"signal": "datum.value === 'P' ? 'M-1,-0.4H1V0.4H-1Z' : 'M-1,0H1'"},
                                       "fill": {"signal": "datum.value === 'P' ? '#808080' : 'transparent'"},
                                       "stroke": {"signal": "datum.value === 'P' ? '#808080' : datum.value === 'T' ? '#ff0000' : datum.value === 'OLR' ? '#0000ff' : '#000000'"},
                                       "strokeWidth": {"value": 1.5}}},
                                       "labels": {"update": {"fontSize": {"signal": "datum.value === 'δ ¹⁸O' ? 10 : 12"}}}}}}
              }
            },
            {
              "mark": {"type": "line", "strokeWidth": 1.5},
              "encoding": {
                "y": {"field": "O", "type": "quantitative", "scale": {"domain": [100, 400], "range": [2, 176], "nice": false, "zero": false},
                      "axis": {"orient": "right", "offset": 28, "values": [100, 200, 300, 400], "title": "OLR / W/m2", "titleFontWeight": "bold", "titleFontSize": 11, "labelFontSize": 11, "titleAngle": 270, "titleBaseline": "top", "titlePadding": 0}},
                "color": {"datum": "OLR", "scale": {"domain": ["T", "P", "δ ¹⁸O", "OLR"], "range": ["#ff0000", "#808080", "#000000", "#0000ff"]}},
                "detail": {"field": "s"}
              }
            },
            {
              "mark": {"type": "line", "strokeWidth": 1.5},
              "encoding": {
                "y": {"field": "T", "type": "quantitative", "scale": {"domain": [-60, 30], "range": [176, 2], "nice": false, "zero": false},
                      "axis": {"orient": "left", "offset": 0, "values": [-60, -30, 0, 30], "title": "T/℃", "titleFontSize": 11, "labelFontSize": 11, "titlePadding": -14, "domainColor": "#bbb", "tickColor": "#bbb"}},
                "color": {"datum": "T", "scale": {"domain": ["T", "P", "δ ¹⁸O", "OLR"], "range": ["#ff0000", "#808080", "#000000", "#0000ff"]}},
                "detail": {"field": "s"}
              }
            },
            {
              "mark": {"type": "line", "strokeWidth": 1.5},
              "encoding": {
                "y": {"field": "d", "type": "quantitative", "scale": {"domain": [-60, 20], "range": [176, 2], "nice": false, "zero": false},
                      "axis": {"orient": "left", "offset": 30, "values": [-60, -40, -20, 0, 20], "title": "δ ¹⁸O/‰", "titleColor": "#444", "titleFontSize": 10, "labelFontSize": 11, "titlePadding": 0}},
                "color": {"datum": "δ ¹⁸O", "scale": {"domain": ["T", "P", "δ ¹⁸O", "OLR"], "range": ["#ff0000", "#808080", "#000000", "#0000ff"]}},
                "detail": {"field": "s"}
              }
            }
          ],
          "resolve": {"scale": {"y": "independent"}, "axis": {"y": "independent"}}
        }
      ],
      "spacing": 17,
      "resolve": {"scale": {"x": "independent", "y": "independent", "color": "independent"}, "legend": {"color": "independent"}}
    }
  ],
  "spacing": 15,
  "resolve": {"scale": {"x": "independent", "y": "independent", "color": "independent"}, "legend": {"color": "independent"}},
  "config": {
    "font": "Liberation Sans",
    "view": {"stroke": null},
    "axis": {"grid": false, "labelFontSize": 10, "titleFontSize": 10, "titleFontWeight": "normal", "labelColor": "#222", "titleColor": "#111", "domainColor": "#444", "tickColor": "#444", "tickSize": 4, "labelPadding": 2, "titlePadding": 4},
    "title": {"fontSize": 12, "fontWeight": "bold", "anchor": "start", "frame": "bounds", "offset": 4, "color": "#000"},
    "legend": {"labelColor": "#111"}
  }
}
